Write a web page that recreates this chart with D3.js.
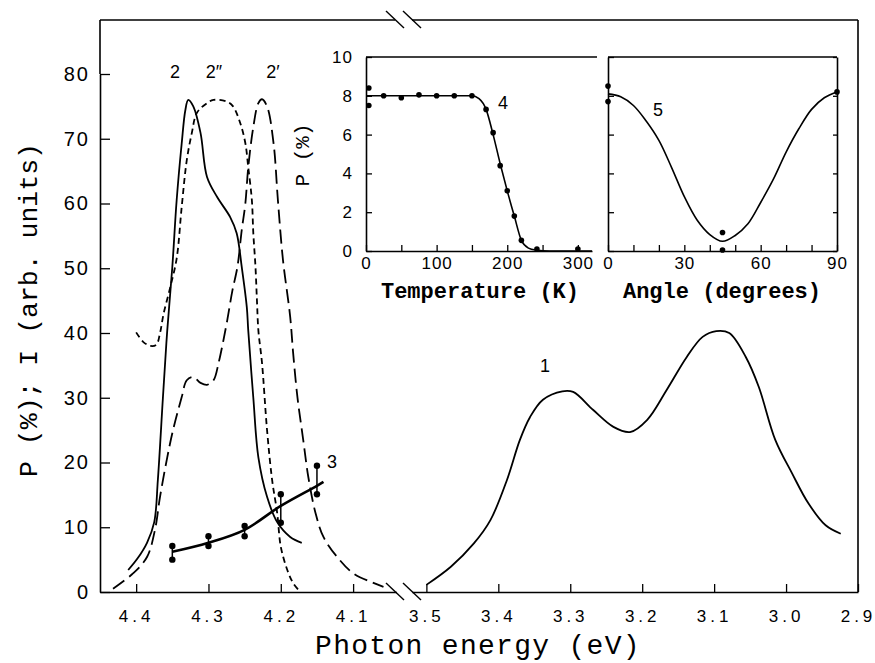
<!DOCTYPE html>
<head>
  <meta charset="utf-8">
  <title>Photon energy</title>
  <style>
    body { margin: 0; background: #fff; }
    .tick text { font-family: "Liberation Sans", Arial, sans-serif; fill: #000; }
    .mono { font-family: "Liberation Mono", "Courier New", monospace; fill: #000; }
    .lbl { font-family: "Liberation Sans", Arial, sans-serif; fill: #000; }
  </style>
</head>
<body>
  <svg id="chart" width="875" height="663"></svg>
  <script src="https://d3js.org/d3.v7.min.js"></script>
  <script>

    /******* Data *******/

    //main panel, left part (4.45 .. 4.04 eV)
    var curve2 = [[4.411,3.4],[4.398,5.2],[4.385,7.6],[4.375,10.8],[4.37,17.3],[4.363,30],[4.357,40.4],
      [4.35,50.2],[4.344,60.5],[4.337,69.3],[4.332,74.4],[4.328,76],[4.321,75],[4.311,70.9],[4.302,64.1],
      [4.288,61],[4.27,57.9],[4.261,55.4],[4.254,50.2],[4.247,44],[4.245,40.4],[4.238,30],[4.231,20.8],
      [4.219,14.7],[4.205,10.8],[4.187,8.5],[4.171,7.6]];

    var curve2p = [[4.432,0.5],[4.404,2.9],[4.385,5.4],[4.374,9.6],[4.367,14.7],[4.357,20.8],[4.349,25],
      [4.337,30.1],[4.33,32.7],[4.321,33.2],[4.311,32.3],[4.302,32],[4.293,32.7],[4.286,35.4],[4.28,38.5],
      [4.274,42],[4.267,46.5],[4.26,50.2],[4.254,55.9],[4.249,60],[4.245,65.6],[4.238,71.8],[4.231,75.5],
      [4.226,76.1],[4.219,75],[4.21,69.3],[4.204,60.5],[4.197,51.3],[4.187,42.5],[4.183,37],[4.177,30.1],
      [4.169,23.5],[4.162,17.8],[4.152,12.2],[4.141,8.5],[4.122,5.4],[4.1,2.9],[4.072,1.4],[4.058,0.8]];

    var curve2pp = [[4.40,40.1],[4.39,38.6],[4.38,38.0],[4.372,38.2],[4.367,40],[4.362,43],[4.353,47],
      [4.344,51.5],[4.337,59.5],[4.33,66.7],[4.323,70.9],[4.316,74],[4.302,75.5],[4.293,76],[4.274,75.7],
      [4.266,75],[4.256,72.4],[4.249,69.3],[4.245,65.6],[4.24,60.5],[4.238,55.4],[4.235,50.2],[4.233,45.1],
      [4.231,40.4],[4.226,35.4],[4.219,25],[4.212,17.3],[4.205,12.2],[4.2,7],[4.191,3.4],[4.183,1.4],[4.173,0]];

    var curve3 = [[4.35,6.2],[4.3,7.6],[4.25,9.6],[4.2,13.3],[4.15,16.4],[4.141,17]];
    var points3 = [[4.35,7.1,5.0],[4.30,8.6,7.1],[4.25,10.2,8.6],[4.20,15.1,10.7],[4.15,19.5,15.1]];

    //main panel, right part (3.52 .. 2.9 eV)
    var curve1 = [[3.5,1.1],[3.466,3.9],[3.434,7.5],[3.411,11.1],[3.388,17.3],[3.37,23.5],[3.356,27],
      [3.338,29.7],[3.311,31],[3.296,30.9],[3.268,28.1],[3.24,25.5],[3.217,24.7],[3.193,26.6],[3.166,31.2],
      [3.138,36.3],[3.116,39.4],[3.097,40.3],[3.079,40],[3.056,36.3],[3.038,31.7],[3.015,23.5],[2.992,18.4],
      [2.969,13.7],[2.945,10.3],[2.924,9.0]];

    //inset: P vs temperature
    var tempCurve = [[0,8],[150,8],[160,7.85],[170,7.3],[180,6.0],[190,4.5],[200,3.1],[210,1.8],
      [220,0.55],[230,0.15],[240,0.05],[260,0],[320,0]];
    var tempPoints = [[4,8.4],[4,7.5],[25,8.0],[50,7.9],[75,8.05],[100,8.0],[125,8.0],[150,8.0],[170,7.3],
      [180,6.1],[190,4.4],[200,3.1],[210,1.8],[220,0.55],[242,0.1],[300,0.1]];

    //inset: P vs angle
    var angleCurve = [[0,8.1],[5,7.95],[10,7.5],[15,6.7],[20,5.7],[25,4.3],[30,2.8],[35,1.6],[40,0.85],
      [45,0.5],[50,0.8],[55,1.4],[60,2.5],[65,3.7],[70,5.1],[75,6.3],[80,7.3],[85,7.9],[90,8.2]];
    var anglePoints = [[0,8.5],[0,7.7],[45,0.95],[45,0.05],[90,8.2]];

    //tick labels
    var mainYTicks = [0, 10, 20, 30, 40, 50, 60, 70, 80];
    var leftXTicks = [4.4, 4.3, 4.2, 4.1];
    var rightXTicks = [3.5, 3.4, 3.3, 3.2, 3.1, 3.0, 2.9];
    var insetYTicks = [0, 2, 4, 6, 8, 10];
    var tempTicks = [0, 50, 100, 150, 200, 250, 300];
    var angleTicks = [0, 10, 20, 30, 40, 50, 60, 70, 80, 90];

    /******* Scales *******/

    var svg = d3.select("#chart");
    var top0 = 20, bottom0 = 592, left0 = 100, right0 = 858;

    var xL = d3.scaleLinear().domain([4.45, 4.04]).range([left0, 396.5]);
    var xR = d3.scaleLinear().domain([3.52, 2.9]).range([412, right0]);
    var y = d3.scaleLinear().domain([0, 80]).range([bottom0, 74]);

    var insTop = 57, insBottom = 251;
    var xT = d3.scaleLinear().domain([0, 320]).range([366, 592]);
    var xA = d3.scaleLinear().domain([0, 90]).range([608, 837]);
    var yP = d3.scaleLinear().domain([0, 10]).range([insBottom, insTop]);

    var f1 = d3.format(".1f");

    //helper to style an axis group
    function styleAxis(g, size, spacing) {
      g.attr("font-family", null).attr("font-size", null);
      g.select(".domain").attr("stroke", "#000").attr("stroke-width", 1.6);
      g.selectAll(".tick line").attr("stroke", "#000").attr("stroke-width", 1.3);
      g.selectAll(".tick text").style("font-size", size + "px").style("letter-spacing", spacing + "px");
    }

    /******* Main frame *******/

    svg.append("g")
      .attr("transform", "translate(0," + bottom0 + ")")
      .call(d3.axisBottom(xL).tickValues(leftXTicks).tickFormat(f1).tickSize(-8).tickSizeOuter(0).tickPadding(18))
      .call(styleAxis, 17, 4);

    svg.append("g")
      .attr("transform", "translate(0," + bottom0 + ")")
      .call(d3.axisBottom(xR).tickValues(rightXTicks).tickFormat(f1).tickSize(-8).tickSizeOuter(0).tickPadding(18))
      .call(styleAxis, 17, 4);

    svg.append("g")
      .attr("transform", "translate(" + left0 + ",0)")
      .call(d3.axisLeft(y).tickValues(mainYTicks).tickSize(-10).tickSizeOuter(0).tickPadding(10))
      .call(styleAxis, 20, 2);

    //extend y axis line to the top of the frame
    var frame = svg.append("g").attr("stroke", "#000").attr("stroke-width", 1.6).attr("fill", "none");
    frame.append("line").attr("x1", left0).attr("y1", top0).attr("x2", left0).attr("y2", y(80));
    frame.append("line").attr("x1", left0).attr("y1", top0).attr("x2", 395).attr("y2", top0);
    frame.append("line").attr("x1", 412).attr("y1", top0).attr("x2", right0).attr("y2", top0);
    frame.append("line").attr("x1", right0).attr("y1", top0).attr("x2", right0).attr("y2", bottom0);

    //axis break marks
    [top0, bottom0].forEach(function(yy) {
      [386, 403].forEach(function(xx) {
        frame.append("line")
          .attr("x1", xx).attr("y1", yy - 9)
          .attr("x2", xx + 18).attr("y2", yy + 8)
          .attr("stroke-width", 1.4);
      });
    });

    /******* Main curves *******/

    var lineL = d3.line()
      .x(function(d) { return xL(d[0]); })
      .y(function(d) { return y(d[1]); })
      .curve(d3.curveCatmullRom.alpha(0.5));

    var lineR = d3.line()
      .x(function(d) { return xR(d[0]); })
      .y(function(d) { return y(d[1]); })
      .curve(d3.curveCatmullRom.alpha(0.5));

    var curves = svg.append("g").attr("fill", "none").attr("stroke", "#000");

    curves.append("path").datum(curve2).attr("d", lineL).attr("stroke-width", 1.8);
    curves.append("path").datum(curve2p).attr("d", lineL).attr("stroke-width", 1.8)
      .attr("stroke-dasharray", "14,6");
    curves.append("path").datum(curve2pp).attr("d", lineL).attr("stroke-width", 1.8)
      .attr("stroke-dasharray", "6,4");
    curves.append("path").datum(curve3).attr("d", lineL).attr("stroke-width", 2.6);
    curves.append("path").datum(curve1).attr("d", lineR).attr("stroke-width", 1.8);

    //data points of curve 3 with their spread
    var p3 = svg.append("g").selectAll("g")
      .data(points3)
      .enter().append("g");

    p3.append("line")
      .attr("x1", function(d) { return xL(d[0]); })
      .attr("x2", function(d) { return xL(d[0]); })
      .attr("y1", function(d) { return y(d[1]); })
      .attr("y2", function(d) { return y(d[2]); })
      .attr("stroke", "#000").attr("stroke-width", 1.5);

    p3.selectAll("circle")
      .data(function(d) { return [[d[0], d[1]], [d[0], d[2]]]; })
      .enter().append("circle")
      .attr("cx", function(d) { return xL(d[0]); })
      .attr("cy", function(d) { return y(d[1]); })
      .attr("r", 3.2);

    //curve labels
    var labels = svg.append("g").attr("class", "lbl").style("font-size", "18px");
    labels.append("text").attr("x", 175).attr("y", 78).attr("text-anchor", "middle").text("2");
    labels.append("text").attr("x", 214).attr("y", 78).attr("text-anchor", "middle").text("2\u2033");
    labels.append("text").attr("x", 273).attr("y", 78).attr("text-anchor", "middle").text("2\u2032");
    labels.append("text").attr("x", 327).attr("y", 468).text("3");
    labels.append("text").attr("x", 545).attr("y", 372).attr("text-anchor", "middle").text("1");
    labels.append("text").attr("x", 498).attr("y", 109).text("4");
    labels.append("text").attr("x", 653).attr("y", 116).text("5");

    //axis titles
    svg.append("text").attr("class", "mono")
      .attr("x", 478).attr("y", 654)
      .attr("text-anchor", "middle")
      .style("font-size", "28px")
      .style("letter-spacing", "1.3px")
      .text("Photon energy (eV)");

    svg.append("text").attr("class", "mono")
      .attr("transform", "translate(37,310) rotate(-90)")
      .attr("text-anchor", "middle")
      .style("font-size", "26.5px")
      .text("P (%); I (arb. units)");

    /******* Inset 1: temperature *******/

    svg.append("g")
      .attr("transform", "translate(" + xT(0) + ",0)")
      .call(d3.axisLeft(yP).tickValues(insetYTicks).tickSize(-6).tickSizeOuter(0).tickPadding(13))
      .call(styleAxis, 17, 1);

    svg.append("g")
      .attr("transform", "translate(0," + insBottom + ")")
      .call(d3.axisBottom(xT).tickValues(tempTicks).tickSize(-6).tickSizeOuter(0).tickPadding(6)
        .tickFormat(function(d) { return d % 100 === 0 ? d : ""; }))
      .call(styleAxis, 17, 1);

    svg.append("line").attr("x1", xT(0)).attr("x2", 597).attr("y1", insTop).attr("y2", insTop)
      .attr("stroke", "#000").attr("stroke-width", 1.6);

    svg.append("path").datum(tempCurve)
      .attr("fill", "none").attr("stroke", "#000").attr("stroke-width", 1.6)
      .attr("d", d3.line()
        .x(function(d) { return xT(d[0]); })
        .y(function(d) { return yP(d[1]); })
        .curve(d3.curveMonotoneX));

    svg.append("g").selectAll("circle")
      .data(tempPoints)
      .enter().append("circle")
      .attr("cx", function(d) { return xT(d[0]); })
      .attr("cy", function(d) { return yP(d[1]); })
      .attr("r", 2.8);

    svg.append("text").attr("class", "mono")
      .attr("transform", "translate(309,155) rotate(-90)")
      .attr("text-anchor", "middle")
      .style("font-size", "21px")
      .text("P (%)");

    svg.append("text").attr("class", "mono")
      .attr("x", 480).attr("y", 298)
      .attr("text-anchor", "middle")
      .attr("font-weight", "bold")
      .style("font-size", "22px")
      .text("Temperature (K)");

    /******* Inset 2: angle *******/

    svg.append("g")
      .attr("transform", "translate(" + xA(0) + ",0)")
      .call(d3.axisLeft(yP).tickValues(insetYTicks).tickSize(-6).tickSizeOuter(0).tickFormat(""))
      .call(styleAxis, 17, 1);

    svg.append("g")
      .attr("transform", "translate(" + xA(90) + ",0)")
      .call(d3.axisRight(yP).tickValues(insetYTicks).tickSize(-4).tickSizeOuter(0).tickFormat(""))
      .call(styleAxis, 17, 1);

    svg.append("g")
      .attr("transform", "translate(0," + insBottom + ")")
      .call(d3.axisBottom(xA).tickValues(angleTicks).tickSize(-6).tickSizeOuter(0).tickPadding(6)
        .tickFormat(function(d) { return d % 30 === 0 ? d : ""; }))
      .call(styleAxis, 17, 1);

    svg.append("line").attr("x1", xA(0)).attr("x2", xA(90)).attr("y1", insTop).attr("y2", insTop)
      .attr("stroke", "#000").attr("stroke-width", 1.6);

    svg.append("path").datum(angleCurve)
      .attr("fill", "none").attr("stroke", "#000").attr("stroke-width", 1.6)
      .attr("d", d3.line()
        .x(function(d) { return xA(d[0]); })
        .y(function(d) { return yP(d[1]); })
        .curve(d3.curveCatmullRom.alpha(0.5)));

    svg.append("g").selectAll("circle")
      .data(anglePoints)
      .enter().append("circle")
      .attr("cx", function(d) { return xA(d[0]); })
      .attr("cy", function(d) { return yP(d[1]); })
      .attr("r", 2.8);

    svg.append("text").attr("class", "mono")
      .attr("x", 722).attr("y", 298)
      .attr("text-anchor", "middle")
      .attr("font-weight", "bold")
      .style("font-size", "22px")
      .text("Angle (degrees)");

  </script>
</body>
